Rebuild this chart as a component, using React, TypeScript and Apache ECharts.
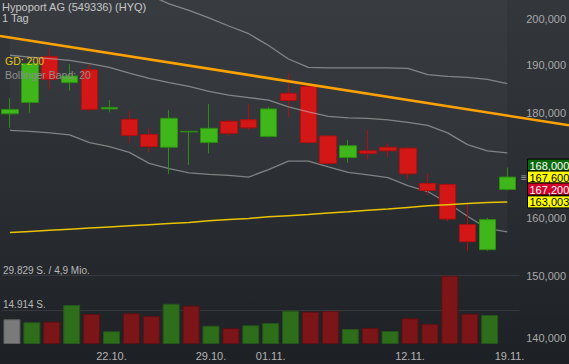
import React, { useEffect, useRef } from "react";
import * as echarts from "echarts";

// ---- data ----
const TITLE = "Hypoport AG (549336) (HYQ)";
const PERIOD = "1 Tag";
const GD_LABEL = "GD: 200";
const BB_LABEL = "Bollinger Band: 20";

const dates = ["15.10.", "16.10.", "17.10.", "18.10.", "19.10.", "22.10.", "23.10.", "24.10.", "25.10.", "26.10.",
  "29.10.", "30.10.", "31.10.", "01.11.", "02.11.", "05.11.", "06.11.", "07.11.", "08.11.", "09.11.",
  "12.11.", "13.11.", "14.11.", "15.11.", "16.11.", "19.11."];
const shownDates = ["22.10.", "29.10.", "01.11.", "12.11.", "19.11."];

const opens = [179.9, 182.2, 191.8, 186.3, 189.0, 180.9, 178.8, 175.8, 173.3, 176.3, 174.2, 178.4, 178.7, 175.4, 184.1, 185.5, 175.5, 171.3, 172.6, 173.3, 173.1, 166.4, 166.2, 158.9, 154.5, 165.3];
const closes = [180.8, 190.3, 187.0, 187.7, 180.8, 181.2, 175.6, 173.4, 179.0, 176.4, 177.0, 176.0, 177.1, 180.9, 182.6, 174.2, 170.2, 173.6, 172.1, 172.6, 168.2, 165.1, 159.9, 155.9, 159.8, 167.6];
const lows = [177.1, 180.1, 184.9, 184.6, 180.4, 180.2, 174.1, 172.3, 168.2, 169.9, 172.1, 175.4, 176.6, 175.2, 179.2, 174.1, 169.9, 170.3, 170.9, 171.4, 167.2, 164.3, 159.5, 154.3, 154.3, 165.1];
const highs = [183.1, 191.0, 193.6, 190.2, 190.3, 182.7, 180.5, 177.1, 180.7, 176.5, 181.9, 178.8, 181.9, 181.3, 188.3, 185.6, 175.6, 174.7, 176.7, 174.1, 173.4, 168.3, 166.4, 162.7, 160.1, 169.4];

const volumes = [10790, 9480, 9740, 17030, 13100, 5550, 13400, 12230, 17600, 16730, 7990, 6860, 8170, 9170, 14540, 14100, 14410, 6550, 6990, 5680, 11220, 8730, 29829, 13230, 12660, null];
const VOL_MAX = 29829;
const VOL_HALF = 14914;
const TURNOVER = "4,9 Mio.";

const gd200 = [157.5, 157.7, 157.9, 158.1, 158.3, 158.5, 158.7, 158.9, 159.1, 159.3, 159.6, 159.8, 160.0, 160.3, 160.5, 160.7, 161.0, 161.2, 161.5, 161.7, 162.0, 162.3, 162.5, 162.7, 162.9, 163.003];
const bbUpper = [214, 213, 212, 211, 210, 209, 207.5, 205.5, 203.5, 202.0, 200.3, 198.5, 196.8, 194.2, 191.3, 189.5, 189.4, 189.4, 189.4, 189.4, 189.3, 188.0, 187.6, 187.4, 187.0, 186.1];
const bbMiddle = [192.1, 191.7, 191.4, 191.0, 190.3, 189.5, 188.3, 187.2, 186.3, 185.5, 184.5, 183.7, 183.2, 182.7, 181.3, 180.3, 179.4, 179.1, 179.0, 178.7, 178.2, 177.6, 176.1, 173.8, 172.6, 172.2];
const bbLower = [176.6, 176.4, 176.1, 175.7, 174.2, 173.4, 172.3, 170.2, 169.2, 168.4, 168.1, 167.9, 167.6, 169.0, 170.6, 170.6, 169.5, 168.5, 168.0, 167.5, 166.0, 164.9, 162.8, 160.4, 158.2, 157.6];

// trend line: [candle index, price] at the two chart edges
const trendLine = [[-0.475, 196.3], [27.975, 177.6]];

const priceTicks = [140, 150, 160, 180, 190, 200];
const PRICE_MIN = 138.7;
const PRICE_MAX = 204.37;

const ASK = 168.0;
const BID = 167.2;

const L = Math.log;
const fmtPrice = (v: number) => v.toFixed(3).replace(".", ",");
const fmtDe = (n: number) => String(n).replace(/\B(?=(\d{3})+(?!\d))/g, ".");
const FONT = '"Liberation Sans", Arial, sans-serif';

const UP = "#3fb71a";
const UP_B = "#2c8d12";
const DN = "#d31616";
const DN_B = "#ad1010";

export default function App() {
  const ref = useRef<HTMLDivElement>(null);
  useEffect(() => {
    document.body.style.margin = "0";
    const chart = echarts.init(ref.current!, null, { renderer: "svg" });
    const n = dates.length;
    const candleData = dates.map((_, i) => [L(opens[i]), L(closes[i]), L(lows[i]), L(highs[i])]);
    const volData = volumes.map((v, i) => {
      if (v == null) return "-";
      let color = "#7a7a7a", border = "#5e5e5e";
      if (i > 0) {
        const up = closes[i] >= closes[i - 1];
        color = up ? "#2e6e1b" : "#7c1517";
        border = up ? "#23561a" : "#5f1012";
      }
      return { value: v, itemStyle: { color, borderColor: border, borderWidth: 1 } };
    });
    const lnArr = (a: number[]) => a.map((v) => L(v));

    chart.setOption({
      animation: false,
      grid: [
        { left: -0.5, top: 0, width: 520, height: 346 },
        { left: -0.5, top: 275.7, width: 520, height: 68.3 },
        { left: 0, top: 0, width: 569, height: 346 },
      ],
      xAxis: [
        { type: "category", gridIndex: 0, data: dates, show: false },
        {
          type: "category", gridIndex: 1, data: dates,
          axisLine: { show: false }, axisTick: { show: false },
          axisLabel: {
            interval: (idx: number) => shownDates.includes(dates[idx]),
            color: "#b4b4b4", fontSize: 11, fontFamily: FONT, margin: 6,
          },
        },
        { type: "value", gridIndex: 2, min: -0.475, max: 27.975, show: false },
      ],
      yAxis: [
        {
          type: "value", gridIndex: 0, position: "right",
          min: L(PRICE_MIN), max: L(PRICE_MAX),
          splitLine: { show: false }, axisLine: { show: false }, axisTick: { show: false },
          axisLabel: {
            customValues: priceTicks.map((v) => L(v)),
            formatter: (v: number) => fmtPrice(Math.exp(v)),
            color: "#a9a9a9", fontSize: 11, fontFamily: FONT, margin: 9, align: "left",
          },
        },
        {
          type: "value", gridIndex: 1, position: "left",
          min: 0, max: VOL_MAX, interval: VOL_MAX / 2,
          axisLine: { show: false }, axisTick: { show: false },
          splitLine: { show: true, showMinLine: false, lineStyle: { color: "rgba(255,255,255,0.09)", width: 1 } },
          axisLabel: {
            inside: true, showMinLabel: false, align: "left", verticalAlign: "bottom", margin: 1,
            color: "#b8b8b8", fontSize: 10, fontFamily: FONT,
            formatter: (v: number) =>
              v >= VOL_MAX ? `${fmtDe(VOL_MAX)} S. / ${TURNOVER}` : v > 0 ? `${fmtDe(VOL_HALF)} S.` : "",
          },
        },
        { type: "value", gridIndex: 2, min: L(PRICE_MIN), max: L(PRICE_MAX), show: false },
      ],
      series: [
        {
          type: "line", xAxisIndex: 0, yAxisIndex: 0, data: lnArr(bbLower), symbol: "none",
          lineStyle: { color: "rgba(195,195,195,0.55)", width: 1.3 },
          areaStyle: { origin: "end", color: "rgba(255,255,255,0.04)" }, z: 1,
        },
        {
          type: "bar", xAxisIndex: 1, yAxisIndex: 1, data: volData, barWidth: 17, z: 2,
        },
        {
          type: "candlestick", xAxisIndex: 0, yAxisIndex: 0, data: candleData, barWidth: 17,
          itemStyle: { color: UP, color0: DN, borderColor: UP_B, borderColor0: DN_B, borderWidth: 1 }, z: 2,
        },
        {
          type: "line", xAxisIndex: 0, yAxisIndex: 0, data: lnArr(bbUpper), symbol: "none",
          lineStyle: { color: "rgba(195,195,195,0.55)", width: 1.3 }, z: 3,
        },
        {
          type: "line", xAxisIndex: 0, yAxisIndex: 0, data: lnArr(bbMiddle), symbol: "none",
          lineStyle: { color: "rgba(195,195,195,0.55)", width: 1.3 }, z: 3,
        },
        {
          type: "line", xAxisIndex: 0, yAxisIndex: 0, data: lnArr(gd200), symbol: "none",
          lineStyle: { color: "#e8c300", width: 1.5 }, z: 4,
        },
        {
          type: "line", xAxisIndex: 2, yAxisIndex: 2, data: trendLine.map(([x, p]) => [x, L(p)]), symbol: "none",
          lineStyle: { color: "#ffa200", width: 2.6 }, z: 5,
        },
      ],
    });

    const yC = chart.convertToPixel({ yAxisIndex: 0 }, L(closes[n - 1])) as number;
    const yG = chart.convertToPixel({ yAxisIndex: 0 }, L(gd200[n - 1])) as number;
    const boxes = [
      { v: ASK, bg: "#0b690b", fg: "#ffffff", cy: yC - 12 },
      { v: closes[n - 1], bg: "#ffff00", fg: "#000000", cy: yC },
      { v: BID, bg: "#d2002a", fg: "#ffffff", cy: yC + 12 },
      { v: gd200[n - 1], bg: "#ffff00", fg: "#000000", cy: Math.max(yG, yC + 24) },
    ];
    const graphic: any[] = [
      { type: "text", x: 2, y: 1, z: 10, style: { text: TITLE, fill: "#c6c6c6", fontSize: 11, fontFamily: FONT, verticalAlign: "top" } },
      { type: "text", x: 2, y: 12, z: 10, style: { text: PERIOD, fill: "#c6c6c6", fontSize: 11, fontFamily: FONT, verticalAlign: "top" } },
      { type: "text", x: 5, y: 55, z: 10, style: { text: GD_LABEL, fill: "#e3c41c", fontSize: 10.5, fontFamily: FONT, verticalAlign: "top" } },
      { type: "text", x: 5, y: 69, z: 10, style: { text: BB_LABEL, fill: "#8e8e8e", fontSize: 10.5, fontFamily: FONT, verticalAlign: "top" } },
      { type: "text", x: 521, y: yC, z: 10, style: { text: "≡", fill: "#a0a0a0", fontSize: 10, fontFamily: FONT, verticalAlign: "middle" } },
    ];
    boxes.forEach((b) => {
      graphic.push({ type: "rect", z: 10, shape: { x: 527.5, y: b.cy - 6, width: 45, height: 12 }, style: { fill: b.bg, stroke: "#000", lineWidth: 1 } });
      graphic.push({ type: "text", z: 11, x: 529.5, y: b.cy + 0.5, style: { text: fmtPrice(b.v), fill: b.fg, fontSize: 11, fontFamily: FONT, verticalAlign: "middle" } });
    });
    chart.setOption({ graphic });

    return () => chart.dispose();
  }, []);

  return (
    <div
      ref={ref}
      style={{
        position: "absolute", left: 0, top: 0, width: 569, height: 364,
        background: "linear-gradient(to bottom, #33373c 0%, #2b2f33 50%, #1d2024 100%)",
      }}
    />
  );
}
